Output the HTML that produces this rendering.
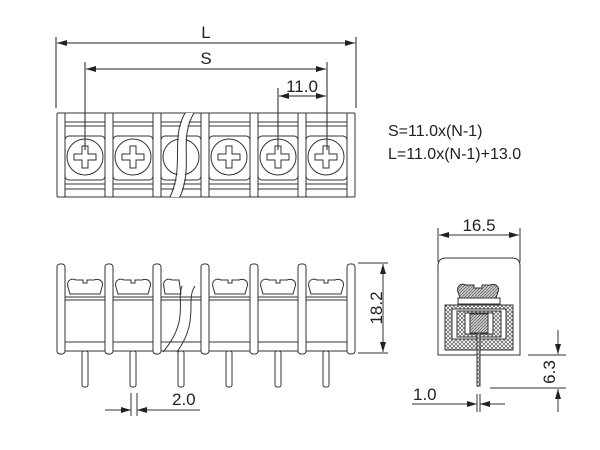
<!DOCTYPE html><html><head><style>body{margin:0;background:#fff}svg{display:block}text{font-family:"Liberation Sans",sans-serif;fill:#222}</style></head><body>
<svg width="600" height="450" viewBox="0 0 600 450" xmlns="http://www.w3.org/2000/svg">
<defs>
<marker id="a" viewBox="0 0 10 6" refX="10" refY="3" markerWidth="10" markerHeight="6" orient="auto-start-reverse" markerUnits="userSpaceOnUse"><path d="M0,0L10,3L0,6z" fill="#222"/></marker>
<pattern id="h" width="4" height="4" patternUnits="userSpaceOnUse"><rect width="4" height="4" fill="#fff"/><path d="M0,4L4,0M0,0L4,4" stroke="#555" stroke-width="0.7"/></pattern>
<pattern id="h2" width="3" height="3" patternUnits="userSpaceOnUse"><rect width="3" height="3" fill="#ccc"/><path d="M0,3L3,0" stroke="#555" stroke-width="0.7"/></pattern>
</defs>
<g stroke="#222" stroke-width="1" fill="none">
<line x1="56" y1="37" x2="56" y2="108"/><line x1="356" y1="37" x2="356" y2="108"/>
<line x1="57" y1="43" x2="355" y2="43" marker-start="url(#a)" marker-end="url(#a)"/>
<line x1="85" y1="62" x2="85" y2="150"/><line x1="327" y1="62" x2="327" y2="150"/>
<line x1="86" y1="69" x2="326" y2="69" marker-start="url(#a)" marker-end="url(#a)"/>
<line x1="278" y1="88" x2="278" y2="150"/>
<line x1="279" y1="96" x2="326" y2="96" marker-start="url(#a)" marker-end="url(#a)"/>
<g stroke="#333">
<line x1="60" y1="122" x2="352" y2="122"/><line x1="60" y1="126" x2="352" y2="126"/>
<line x1="60" y1="184" x2="352" y2="184"/><line x1="60" y1="189" x2="352" y2="189"/>
<line x1="60" y1="113" x2="352" y2="113"/><line x1="60" y1="197" x2="352" y2="197"/>
</g>
</g>
<g stroke="#333" fill="none">
<rect x="65" y="136" width="40" height="44" rx="4"/><rect x="113" y="136" width="40" height="44" rx="4"/><rect x="161" y="136" width="40" height="44" rx="4"/><rect x="209" y="136" width="41" height="44" rx="4"/><rect x="258" y="136" width="40" height="44" rx="4"/><rect x="306" y="136" width="41" height="44" rx="4"/>
<circle cx="85" cy="157" r="18"/><circle cx="133" cy="157" r="18"/><circle cx="181" cy="157" r="18"/><circle cx="229" cy="157" r="18"/><circle cx="278" cy="157" r="18"/><circle cx="326" cy="157" r="18"/>
<path d="M82,146h6v8h8v6h-8v8h-6v-8h-8v-6h8z"/><path d="M130,146h6v8h8v6h-8v8h-6v-8h-8v-6h8z"/><path d="M226,146h6v8h8v6h-8v8h-6v-8h-8v-6h8z"/><path d="M275,146h6v8h8v6h-8v8h-6v-8h-8v-6h8z"/><path d="M323,146h6v8h8v6h-8v8h-6v-8h-8v-6h8z"/>
<g fill="#fff"><rect x="57" y="113" width="8" height="84" rx="1"/><rect x="105" y="113" width="8" height="84" rx="1"/><rect x="153" y="113" width="8" height="84" rx="1"/><rect x="201" y="113" width="8" height="84" rx="1"/><rect x="250" y="113" width="8" height="84" rx="1"/><rect x="298" y="113" width="8" height="84" rx="1"/><rect x="347" y="113" width="8" height="84" rx="1"/></g>
<path d="M186,113C171,140 186,165 171,197L179,197C193,165 177,140 193,113z" fill="#fff" stroke="none"/>
<path d="M185,113C170,140 185,165 170,197 M194,113C178,140 194,165 180,197"/>
</g>
<text x="388" y="136" font-size="16">S=11.0x(N-1)</text>
<text x="388" y="159" font-size="16">L=11.0x(N-1)+13.0</text>
<text x="206" y="38" font-size="17" text-anchor="middle">L</text>
<text x="206" y="64" font-size="17" text-anchor="middle">S</text>
<text x="302" y="92" font-size="17" text-anchor="middle">11.0</text>
<g stroke="#333" fill="none">
<line x1="60" y1="297" x2="352" y2="297"/><line x1="60" y1="300" x2="352" y2="300"/>
<line x1="60" y1="342" x2="352" y2="342"/><line x1="60" y1="351" x2="352" y2="351"/>
<g fill="#fff">
<path d="M68,287c-2,-7 4,-9 8,-7h7v3h4v-3h7c6,-2 10,2 8,7l-2,7h-30z"/>
<path d="M116,287c-2,-7 4,-9 8,-7h7v3h4v-3h7c6,-2 10,2 8,7l-2,7h-30z"/>
<path d="M213,287c-2,-7 4,-9 8,-7h7v3h4v-3h7c6,-2 10,2 8,7l-2,7h-30z"/>
<path d="M261,287c-2,-7 4,-9 8,-7h7v3h4v-3h7c6,-2 10,2 8,7l-2,7h-30z"/>
<path d="M309,287c-2,-7 4,-9 8,-7h7v3h4v-3h7c6,-2 10,2 8,7l-2,7h-30z"/>
<path d="M164,287c-2,-7 4,-9 8,-7h7l2,14h-16z"/>
<rect x="82" y="351" width="6" height="36" rx="2"/><rect x="130" y="351" width="6" height="36" rx="2"/><rect x="178" y="351" width="6" height="36" rx="2"/><rect x="226" y="351" width="6" height="36" rx="2"/><rect x="275" y="351" width="6" height="36" rx="2"/><rect x="323" y="351" width="6" height="36" rx="2"/>
<rect x="57" y="264" width="8" height="90" rx="3"/><rect x="105" y="264" width="8" height="90" rx="3"/><rect x="153" y="264" width="8" height="90" rx="3"/><rect x="201" y="264" width="8" height="90" rx="3"/><rect x="250" y="264" width="8" height="90" rx="3"/><rect x="298" y="264" width="8" height="90" rx="3"/><rect x="347" y="264" width="8" height="90" rx="3"/>
</g>
<path d="M182,286C176,300 190,320 163,352 M195,286C185,300 200,320 177,352"/>
<line x1="358" y1="263" x2="388" y2="263"/><line x1="358" y1="353" x2="388" y2="353"/>
<line x1="383" y1="264" x2="383" y2="352" marker-start="url(#a)" marker-end="url(#a)"/>
<line x1="131" y1="393" x2="131" y2="416"/><line x1="137" y1="393" x2="137" y2="416"/>
<line x1="105" y1="410" x2="131" y2="410" marker-end="url(#a)"/>
<line x1="200" y1="410" x2="137" y2="410" marker-end="url(#a)"/>
</g>
<text x="172" y="405" font-size="17">2.0</text>
<text transform="translate(382,308) rotate(-90)" font-size="17" text-anchor="middle">18.2</text>
<g stroke="#333" fill="none">
<line x1="438" y1="228" x2="438" y2="262"/><line x1="520" y1="228" x2="520" y2="262"/>
<line x1="439" y1="235" x2="519" y2="235" marker-start="url(#a)" marker-end="url(#a)"/>
<path d="M438,355V266q0,-8 8,-8h66q8,0 8,8V355z"/>
<rect x="445" y="305" width="68" height="45" fill="url(#h)"/>
<rect x="452" y="309" width="54" height="30" fill="#fff"/>
<rect x="457" y="311" width="44" height="26" fill="url(#h)"/>
<rect x="465" y="313" width="28" height="21" fill="#fff"/>
<rect x="470" y="314" width="18" height="19" fill="url(#h2)"/>
<path d="M458,292c-2,-7 4,-9 8,-7h8v3h8v-3h8c6,-2 10,2 8,7l-2,6h-36z" fill="url(#h2)"/>
<rect x="458" y="298" width="42" height="6" fill="#fff"/>
<rect x="477" y="333" width="3" height="53" fill="url(#h)"/>
<line x1="528" y1="355" x2="566" y2="355"/><line x1="490" y1="388" x2="566" y2="388"/>
<line x1="558" y1="330" x2="558" y2="354" marker-end="url(#a)"/>
<line x1="558" y1="412" x2="558" y2="389" marker-end="url(#a)"/>
<line x1="477" y1="394" x2="477" y2="412"/><line x1="480" y1="394" x2="480" y2="412"/>
<line x1="412" y1="404" x2="477" y2="404" marker-end="url(#a)"/>
<line x1="505" y1="404" x2="480" y2="404" marker-end="url(#a)"/>
</g>
<text x="479" y="231" font-size="17" text-anchor="middle">16.5</text>
<text x="413" y="400" font-size="17">1.0</text>
<text transform="translate(555,372) rotate(-90)" font-size="17" text-anchor="middle">6.3</text>
</svg>
</body></html>
